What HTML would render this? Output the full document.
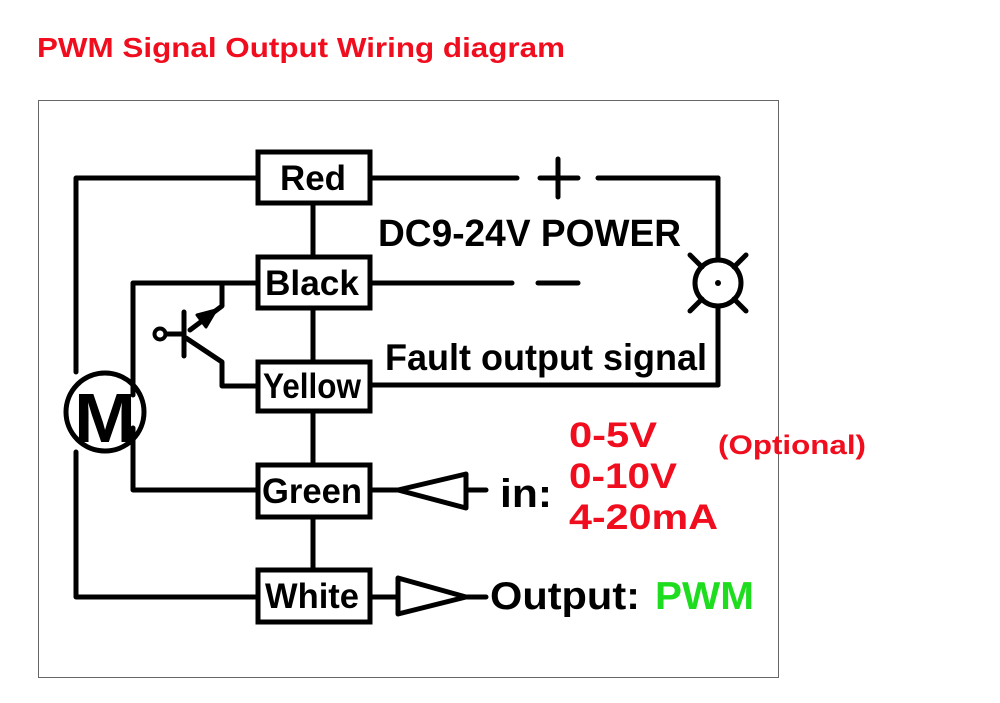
<!DOCTYPE html>
<html><head><style>
html,body{margin:0;padding:0;background:#fff;}
svg{display:block;}
text{font-family:"Liberation Sans",Arial,sans-serif;font-weight:bold;}
</style></head><body>
<svg width="1000" height="703" viewBox="0 0 1000 703" xmlns="http://www.w3.org/2000/svg">
<rect width="1000" height="703" fill="#fff"/>
<text x="37" y="57" font-size="28" fill="#f00d1e" textLength="528" lengthAdjust="spacingAndGlyphs">PWM Signal Output Wiring diagram</text>
<rect x="38.5" y="100.5" width="740" height="577" fill="none" stroke="#666" stroke-width="1"/>
<g stroke="#000" stroke-width="5" fill="none" stroke-linecap="round" stroke-linejoin="round">
<line x1="313" y1="204" x2="313" y2="568"/>
<polyline points="257,178 76,178 76,372"/>
<polyline points="76,452 76,597 257,597"/>
<polyline points="257,283 133,283 133,395"/>
<polyline points="133,428 133,490 257,490"/>
<circle cx="105" cy="412" r="39"/>
<polyline points="257,283 222,283 222,306 190,330"/>
<line x1="184" y1="312" x2="184" y2="356"/>
<polyline points="186,338 222,362 222,386 257,386"/>
<line x1="166" y1="334" x2="184" y2="334"/>
<circle cx="160" cy="334" r="5.5" stroke-width="4"/>
<line x1="371" y1="178" x2="517" y2="178"/>
<line x1="598" y1="178" x2="718" y2="178"/>
<line x1="718" y1="178" x2="718" y2="260"/>
<line x1="718" y1="306" x2="718" y2="385"/>
<line x1="371" y1="385" x2="718" y2="385"/>
<line x1="540" y1="178" x2="578" y2="178"/>
<line x1="558" y1="159" x2="558" y2="197"/>
<line x1="371" y1="283" x2="512" y2="283"/>
<line x1="538" y1="283" x2="578" y2="283"/>
<circle cx="718" cy="283" r="23"/>
<line x1="690" y1="255" x2="702" y2="267"/><line x1="746" y1="255" x2="734" y2="267"/>
<line x1="690" y1="311" x2="702" y2="299"/><line x1="746" y1="311" x2="734" y2="299"/>
<line x1="371" y1="490" x2="398" y2="490"/>
<polygon points="398,490 466,474 466,508"/>
<line x1="466" y1="490" x2="486" y2="490"/>
<line x1="371" y1="597" x2="398" y2="597"/>
<polygon points="398,578 466,597 398,614"/>
<line x1="466" y1="597" x2="486" y2="597"/>
</g>
<circle cx="718" cy="283" r="3" fill="#000"/>
<g stroke="#000" stroke-width="5" fill="#fff">
<rect x="258" y="152" width="112" height="51"/>
<rect x="258" y="257" width="112" height="51"/>
<rect x="258" y="362" width="112" height="49"/>
<rect x="258" y="465" width="112" height="52"/>
<rect x="258" y="570" width="112" height="52"/>
</g>
<polygon points="216,310 206,327 197,315" fill="#000" stroke="#000" stroke-width="3" stroke-linejoin="round"/>
<g font-size="35" fill="#000" text-anchor="middle">
<text x="313" y="190" textLength="66" lengthAdjust="spacingAndGlyphs">Red</text>
<text x="312" y="295" textLength="94" lengthAdjust="spacingAndGlyphs">Black</text>
<text x="312" y="398" textLength="98" lengthAdjust="spacingAndGlyphs">Yellow</text>
<text x="312" y="503" textLength="100" lengthAdjust="spacingAndGlyphs">Green</text>
<text x="312" y="608" textLength="94" lengthAdjust="spacingAndGlyphs">White</text>
</g>
<text x="105" y="442" font-size="70" text-anchor="middle" fill="#000" textLength="62" lengthAdjust="spacingAndGlyphs">M</text>
<text x="378" y="246" font-size="38" fill="#000" textLength="303" lengthAdjust="spacingAndGlyphs">DC9-24V POWER</text>
<text x="385" y="370" font-size="37" fill="#000" textLength="322" lengthAdjust="spacingAndGlyphs">Fault output signal</text>
<text x="500" y="507" font-size="40" fill="#000" textLength="52" lengthAdjust="spacingAndGlyphs">in:</text>
<text x="490" y="609" font-size="39" fill="#000" textLength="150" lengthAdjust="spacingAndGlyphs">Output:</text>
<text x="655" y="609" font-size="39" fill="#1edc1e" textLength="99" lengthAdjust="spacingAndGlyphs">PWM</text>
<g fill="#f00d1e" font-size="35">
<text x="569" y="447" textLength="88" lengthAdjust="spacingAndGlyphs">0-5V</text>
<text x="569" y="488" textLength="108" lengthAdjust="spacingAndGlyphs">0-10V</text>
<text x="569" y="529" textLength="149" lengthAdjust="spacingAndGlyphs">4-20mA</text>
<text x="718" y="454" font-size="27" textLength="148" lengthAdjust="spacingAndGlyphs">(Optional)</text>
</g>
</svg>
</body></html>
